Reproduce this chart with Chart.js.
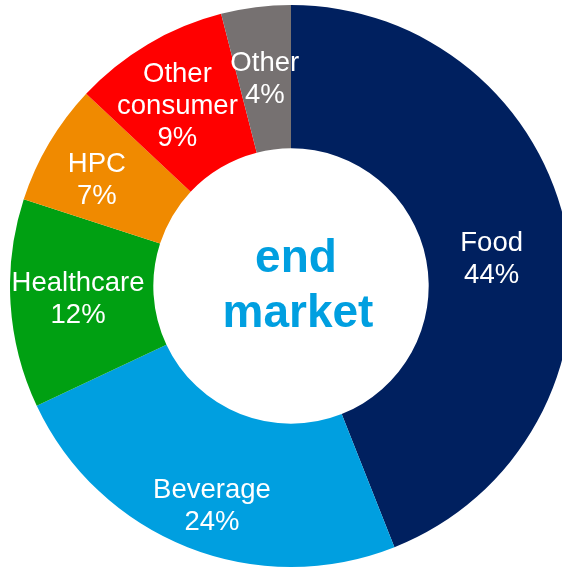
<!DOCTYPE html>
<html>
<head>
<meta charset="utf-8">
<script src="https://cdn.jsdelivr.net/npm/chart.js@4/dist/chart.umd.min.js"></script>
<style>
  html, body { margin: 0; padding: 0; background: #ffffff; overflow: hidden; width: 562px; height: 569px; }
  #wrap { position: absolute; left: 10px; top: 5px; width: 562px; height: 562px; }
</style>
</head>
<body>
<div id="wrap"><canvas id="c"></canvas></div>
<script>
const categories = [["Food"], ["Beverage"], ["Healthcare"], ["HPC"], ["Other", "consumer"], ["Other"]];
const shares = [44, 24, 12, 7, 9, 4];
const colors = ["#00205F", "#009FE0", "#00A012", "#F08A00", "#FF0000", "#767171"];
const centerText = ["end", "market"];

const labelOffsets = [[-5, 13], [-2, 26], [-4, 0], [-14, 1], [-7, 1], [0, 1]];

const sliceLabels = {
  id: 'sliceLabels',
  afterDatasetsDraw(chart) {
    const ctx = chart.ctx;
    const meta = chart.getDatasetMeta(0);
    ctx.save();
    ctx.fillStyle = '#ffffff';
    ctx.font = '27.5px "Liberation Sans", Arial, sans-serif';
    ctx.textAlign = 'center';
    ctx.textBaseline = 'middle';
    meta.data.forEach((arc, i) => {
      const p = arc.tooltipPosition();
      const x = p.x + labelOffsets[i][0];
      const y = p.y + labelOffsets[i][1];
      const lines = categories[i].concat([shares[i] + '%']);
      const lh = 32;
      const y0 = y - (lines.length - 1) * lh / 2;
      lines.forEach((t, k) => ctx.fillText(t, x, y0 + k * lh));
    });
    const a = meta.data[0];
    ctx.fillStyle = '#009FE0';
    ctx.font = 'bold 46px "Liberation Sans", Arial, sans-serif';
    ctx.textBaseline = 'alphabetic';
    ctx.fillText(centerText[0], a.x + 5, a.y - 14);
    ctx.fillText(centerText[1], a.x + 7, a.y + 41);
    ctx.restore();
  }
};

new Chart(document.getElementById('c'), {
  type: 'doughnut',
  data: {
    labels: categories.map(c => c.join(' ')),
    datasets: [{
      data: shares,
      backgroundColor: colors,
      borderWidth: 0,
      hoverOffset: 0
    }]
  },
  options: {
    responsive: true,
    maintainAspectRatio: false,
    animation: false,
    cutout: '49%',
    layout: { padding: 0 },
    plugins: {
      legend: { display: false },
      tooltip: { enabled: false }
    }
  },
  plugins: [sliceLabels]
});
</script>
</body>
</html>
